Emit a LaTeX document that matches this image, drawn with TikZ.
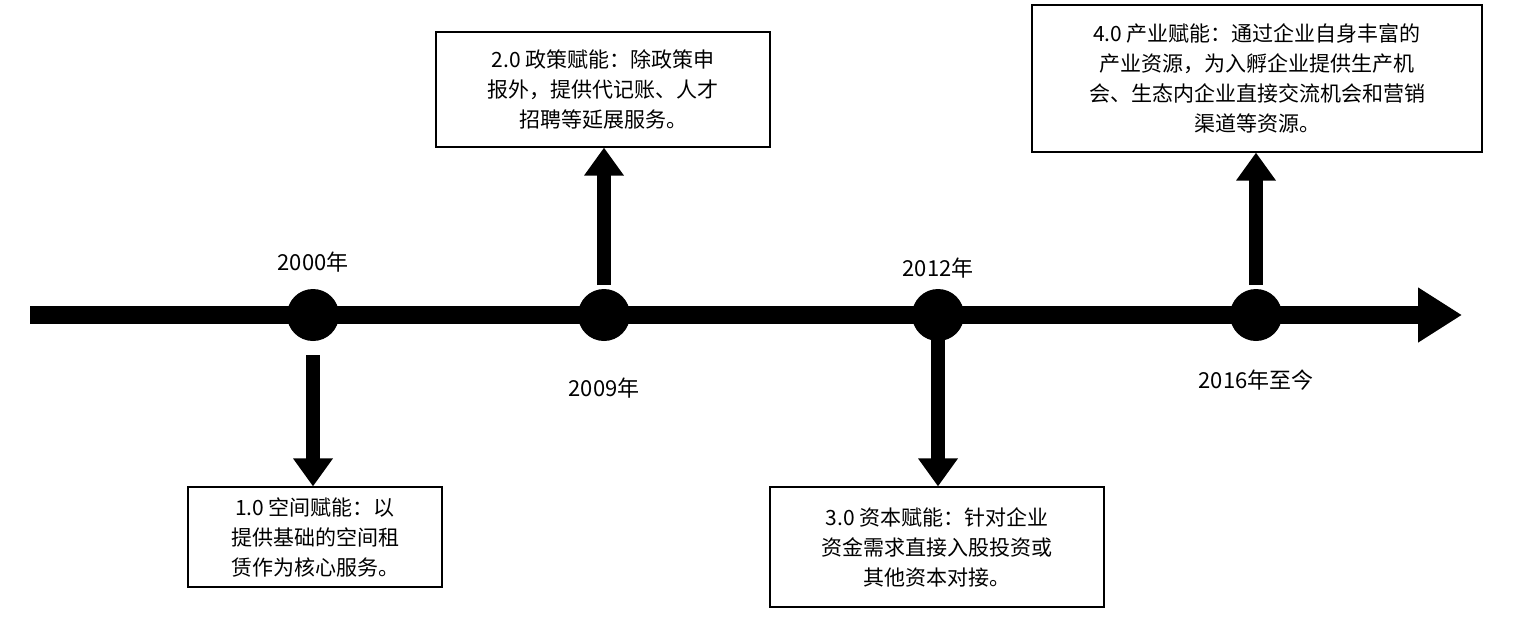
\documentclass[tikz,border=0pt]{standalone}
\usepackage{fontspec}
\newfontfamily\cjk{Noto Sans CJK SC}
\usetikzlibrary{arrows.meta}
\begin{document}
\begin{tikzpicture}[x=0.5pt,y=-0.5pt,
  dot/.style={circle,fill=black,minimum size=26pt,inner sep=0pt},
  yr/.style={font=\cjk\fontsize{11}{13}\selectfont},
  box/.style={draw,line width=0.6pt,font=\cjk\fontsize{10.5}{15}\selectfont,align=center,inner sep=0pt},
  arr/.style={line width=7pt,-{Triangle[width=19pt,length=14pt]}}]
\useasboundingbox (0,0) rectangle (1514,616);
\coordinate (ls) at (30,315);
\coordinate (le) at (1462,315);
\draw[line width=9pt,-{Triangle[width=26pt,length=22pt]}] (ls) -- (le);
\node[dot] (d1) at (313,315) {};
\node[dot] (d2) at (604,315) {};
\node[dot] (d3) at (938,315) {};
\node[dot] (d4) at (1256,315) {};
\node[yr] at (313,262) {2000年};
\node[yr] at (604,388) {2009年};
\node[yr] at (938,268) {2012年};
\node[yr] at (1256,380) {2016年至今};
\node[box,minimum width=127pt,minimum height=50pt] (b1) at (315,537) {1.0 空间赋能：以\\提供基础的空间租\\赁作为核心服务。};
\node[box,minimum width=167pt,minimum height=57.5pt] (b2) at (603,89.5) {2.0 政策赋能：除政策申\\报外，提供代记账、人才\\招聘等延展服务。};
\node[box,minimum width=167pt,minimum height=60pt] (b3) at (937,547) {3.0 资本赋能：针对企业\\资金需求直接入股投资或\\其他资本对接。};
\node[box,minimum width=225pt,minimum height=73.5pt] (b4) at (1257,78.5) {4.0 产业赋能：通过企业自身丰富的\\产业资源，为入孵企业提供生产机\\会、生态内企业直接交流机会和营销\\渠道等资源。};
\coordinate (a1) at (313,355);
\coordinate (a2) at (604,285);
\coordinate (a3) at (938,325);
\coordinate (a4) at (1256,285);
\draw[arr] (a1) -- (b1.north -| a1);
\draw[arr] (a2) -- (b2.south -| a2);
\draw[arr] (a3) -- (b3.north -| a3);
\draw[arr] (a4) -- (b4.south -| a4);
\end{tikzpicture}
\end{document}
